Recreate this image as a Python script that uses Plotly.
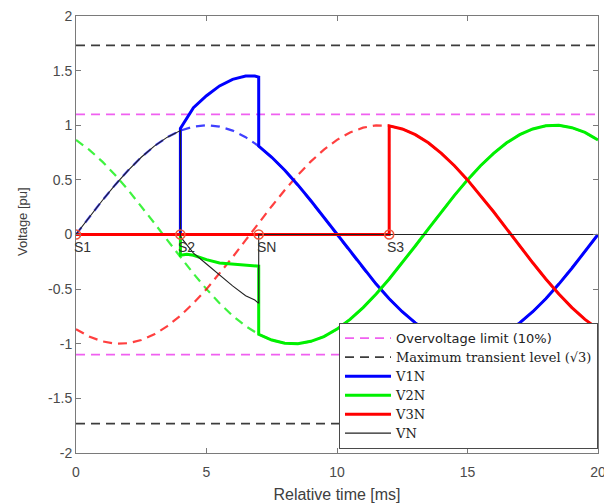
import plotly.graph_objects as go

# ---------------- data ----------------
time_ms = [0, 0.5, 1, 1.5, 2, 2.5, 3, 3.5, 4, 4.5, 5, 5.5, 6, 6.5, 7, 7.5, 8, 8.5, 9, 9.5,
           10, 10.5, 11, 11.5, 12, 12.5, 13, 13.5, 14, 14.5, 15, 15.5, 16, 16.5, 17, 17.5,
           18, 18.5, 19, 19.5, 20]

# reference (pre-fault) phase voltages, dashed
v1_ref = [0, 0.156, 0.309, 0.454, 0.588, 0.707, 0.809, 0.891, 0.951, 0.988, 1, 0.988, 0.951,
          0.891, 0.809, 0.707, 0.588, 0.454, 0.309, 0.156, 0, -0.156, -0.309, -0.454, -0.588,
          -0.707, -0.809, -0.891, -0.951, -0.988, -1, -0.988, -0.951, -0.891, -0.809, -0.707,
          -0.588, -0.454, -0.309, -0.156, 0]
v2_ref = [0.866, 0.777, 0.669, 0.545, 0.407, 0.259, 0.105, -0.052, -0.208, -0.358, -0.5,
          -0.629, -0.743, -0.839, -0.914, -0.966, -0.995, -0.999, -0.978, -0.934, -0.866,
          -0.777, -0.669, -0.545, -0.407, -0.259, -0.105, 0.052, 0.208, 0.358, 0.5, 0.629,
          0.743, 0.839, 0.914, 0.966, 0.995, 0.999, 0.978, 0.934, 0.866]
v3_ref = [-0.866, -0.934, -0.978, -0.999, -0.995, -0.966, -0.914, -0.839, -0.743, -0.629,
          -0.5, -0.358, -0.208, -0.052, 0.105, 0.259, 0.407, 0.545, 0.669, 0.777, 0.866,
          0.934, 0.978, 0.999, 0.995, 0.966, 0.914, 0.839, 0.743, 0.629, 0.5, 0.358, 0.208,
          0.052, -0.105, -0.259, -0.407, -0.545, -0.669, -0.777, -0.866]

# transient interval between S2 and SN
surge_t = [4, 4.25, 4.5, 5, 5.5, 6, 6.5, 6.85, 7]
v1n_surge = [0.97, 1.07, 1.16, 1.27, 1.36, 1.42, 1.45, 1.45, 1.44]
v2n_surge = [-0.19, -0.18, -0.19, -0.23, -0.26, -0.27, -0.28, -0.285, -0.29]
vn_surge = [-0.02, -0.10, -0.17, -0.27, -0.37, -0.47, -0.56, -0.60, -0.63]

# switching instants
switch_t = [0, 4, 7, 12]
switch_v = [0, 0, 0, 0]
switch_names = ["S1", "S2", "SN", "S3"]

overvoltage_limit = 1.1
max_transient = 1.732

y_ticks = [-2, -1.5, -1, -0.5, 0, 0.5, 1, 1.5, 2]
y_tick_labels = ["-2", "-1.5", "-1", "-0.5", "0", "0.5", "1", "1.5", "2"]
x_ticks = [0, 5, 10, 15, 20]
x_tick_labels = ["0", "5", "10", "15", "20"]

# ---------------- assemble piecewise series ----------------
t_s2, t_sn, t_s3 = switch_t[1], switch_t[2], switch_t[3]
i_s2 = time_ms.index(t_s2)
i_sn = time_ms.index(t_sn)
i_s3 = time_ms.index(t_s3)
t0, t_end = time_ms[0], time_ms[-1]

v1n_x = [t0, t_s2] + surge_t + time_ms[i_sn:]
v1n_y = [0, 0] + v1n_surge + v1_ref[i_sn:]
v2n_x = [t0, t_s2] + surge_t + time_ms[i_sn:]
v2n_y = [0, 0] + v2n_surge + v2_ref[i_sn:]
v3n_x = [t0, t_s3] + time_ms[i_s3:]
v3n_y = [0, 0] + v3_ref[i_s3:]
vn_x = time_ms[:i_s2 + 1] + surge_t + [t_sn, t_end]
vn_y = v1_ref[:i_s2 + 1] + vn_surge + [0, 0]

BLUE, GREEN, RED = "#0000ff", "#00f000", "#ff0000"
MAGENTA, DARKGRAY = "#f060f0", "#3c3c3c"
DASH = "9px,6px"
SANS = "Liberation Sans, Arial, sans-serif"
SERIF = "DejaVu Serif, serif"


def serif(s):
    return f"<span style='font-size:13px'>{s}</span>"


fig = go.Figure()

# limit lines
fig.add_trace(go.Scatter(x=[t0, t_end], y=[overvoltage_limit] * 2, mode="lines",
                         line=dict(color=MAGENTA, width=1.8, dash=DASH),
                         name="<span style='font-family:DejaVu Sans;font-size:13px'>Overvoltage limit (10%)</span>",
                         legendgroup="ov"))
fig.add_trace(go.Scatter(x=[t0, t_end], y=[-overvoltage_limit] * 2, mode="lines",
                         line=dict(color=MAGENTA, width=1.8, dash=DASH),
                         showlegend=False, legendgroup="ov"))
fig.add_trace(go.Scatter(x=[t0, t_end], y=[max_transient] * 2, mode="lines",
                         line=dict(color=DARKGRAY, width=1.8, dash=DASH),
                         name=serif("Maximum transient level (√3)"), legendgroup="mt"))
fig.add_trace(go.Scatter(x=[t0, t_end], y=[-max_transient] * 2, mode="lines",
                         line=dict(color=DARKGRAY, width=1.8, dash=DASH),
                         showlegend=False, legendgroup="mt"))

# reference sinusoids (dashed)
for ref, col in [(v1_ref, BLUE), (v2_ref, GREEN), (v3_ref, RED)]:
    fig.add_trace(go.Scatter(x=time_ms, y=ref, mode="lines",
                             line=dict(color=col, width=2.2, dash=DASH),
                             opacity=0.75, showlegend=False, hoverinfo="skip"))

# actual voltages
fig.add_trace(go.Scatter(x=v1n_x, y=v1n_y, mode="lines", name=serif("V1N"),
                         line=dict(color=BLUE, width=3)))
fig.add_trace(go.Scatter(x=v2n_x, y=v2n_y, mode="lines", name=serif("V2N"),
                         line=dict(color=GREEN, width=3)))
fig.add_trace(go.Scatter(x=v3n_x, y=v3n_y, mode="lines", name=serif("V3N"),
                         line=dict(color=RED, width=3)))
fig.add_trace(go.Scatter(x=vn_x, y=vn_y, mode="lines", name=serif("VN"),
                         line=dict(color="#222222", width=1.1)))

# switch markers
fig.add_trace(go.Scatter(x=switch_t, y=switch_v, mode="markers", showlegend=False,
                         marker=dict(symbol="circle-open", size=9,
                                     line=dict(color="#444444", width=1.6))))

for st, sv, sn in zip(switch_t, switch_v, switch_names):
    fig.add_annotation(x=st, y=sv, text=sn, showarrow=False, xanchor="left",
                       yanchor="top", xshift=-4, yshift=-2,
                       font=dict(family=SANS, size=14, color="#333333"))

# y-axis title placed like the reference (slightly above the axis centre)
fig.add_annotation(xref="paper", yref="paper", x=-0.1034, y=0.5286, text="Voltage [pu]",
                   textangle=-90, showarrow=False, xanchor="center", yanchor="middle",
                   font=dict(family=SANS, size=13, color="#404040"))

axis_common = dict(showgrid=False, zeroline=False, showline=True, linecolor="#7a7a7a",
                   linewidth=1, mirror="ticks", ticks="inside", ticklen=5,
                   tickcolor="#7a7a7a", automargin=False, ticklabeloverflow="allow",
                   tickfont=dict(family=SANS, size=14, color="#4a4a4a"))

# the page body adds an 8px offset, so the figure is 604x496
fig.update_layout(
    width=604, height=496, autosize=False,
    margin=dict(l=68, r=14, t=8, b=51),
    paper_bgcolor="white", plot_bgcolor="white",
    xaxis=dict(range=[0, 20], tickvals=x_ticks, ticktext=x_tick_labels,
               ticklabelstandoff=6,
               title=dict(text="Relative time [ms]", standoff=10,
                          font=dict(family=SANS, size=16, color="#404040")),
               **axis_common),
    yaxis=dict(range=[-2, 2], tickvals=y_ticks, ticktext=y_tick_labels,
               **axis_common),
    legend=dict(x=1, xanchor="right", y=0.01, yanchor="bottom",
                bgcolor="white", bordercolor="#4a4a4a", borderwidth=1,
                font=dict(family=SERIF, size=12, color="#222222"),
                tracegroupgap=0, itemwidth=46),
    showlegend=True,
)

fig.write_html("out.html")
